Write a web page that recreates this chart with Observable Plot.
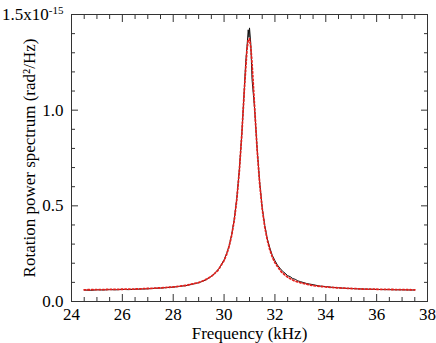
<!DOCTYPE html>
<html><head><meta charset="utf-8">
<script src="https://cdn.jsdelivr.net/npm/d3@7"></script>
<script src="https://cdn.jsdelivr.net/npm/@observablehq/plot@0.6"></script>
<style>body{margin:0;background:#fff} #chart svg, #chart svg text{font-family:"Liberation Serif","Times New Roman",serif !important}</style>
</head><body><div id="chart"></div>
<script>
// Fit (red dotted) — frequency in kHz, power in units of 1e-15 rad^2/Hz
const fitFreq = [24.5,25,25.5,26,26.5,27,27.5,28,28.5,29,29.25,29.5,29.75,30,30.1,30.2,30.3,30.4,30.5,30.6,30.7,30.8,30.9,30.95,31.0,31.05,31.1,31.2,31.3,31.4,31.5,31.6,31.7,31.8,31.9,32.0,32.25,32.5,32.75,33,33.5,34,34.5,35,35.5,36,36.5,37,37.5];
const fitPower = [0.061,0.062,0.063,0.064,0.065,0.068,0.071,0.076,0.084,0.099,0.112,0.131,0.161,0.214,0.246,0.289,0.346,0.424,0.532,0.681,0.879,1.113,1.315,1.368,1.373,1.329,1.245,1.018,0.794,0.616,0.485,0.390,0.321,0.270,0.232,0.203,0.155,0.127,0.109,0.098,0.083,0.076,0.071,0.068,0.065,0.064,0.063,0.062,0.061];
// Measured (black)
const measFreq = [24.5,24.75,25.0,25.25,25.5,25.75,26.0,26.25,26.5,26.75,27.0,27.25,27.5,27.75,28.0,28.25,28.5,28.75,29.0,29.2,29.4,29.5,29.6,29.7,29.8,29.9,30.0,30.1,30.2,30.3,30.4,30.5,30.6,30.7,30.8,30.85,30.9,30.95,30.98,31.0,31.05,31.1,31.2,31.3,31.4,31.5,31.6,31.7,31.8,31.9,32.0,32.1,32.2,32.3,32.4,32.5,32.6,32.7,32.8,32.9,33.0,33.25,33.5,33.75,34.0,34.25,34.5,34.75,35.0,35.25,35.5,35.75,36.0,36.25,36.5,36.75,37.0,37.25,37.5];
const measPower = [0.060,0.058,0.061,0.060,0.062,0.061,0.063,0.062,0.064,0.065,0.066,0.069,0.070,0.073,0.075,0.079,0.083,0.090,0.098,0.108,0.122,0.132,0.142,0.158,0.172,0.194,0.218,0.250,0.292,0.350,0.430,0.540,0.690,0.880,1.120,1.250,1.330,1.420,1.380,1.430,1.350,1.160,1.010,0.800,0.625,0.490,0.398,0.328,0.280,0.240,0.214,0.190,0.174,0.158,0.148,0.135,0.130,0.120,0.116,0.108,0.104,0.094,0.088,0.081,0.078,0.074,0.072,0.069,0.068,0.066,0.065,0.064,0.063,0.062,0.062,0.061,0.061,0.060,0.060];

const xTicks = [24,26,28,30,32,34,36,38];
const xMinor = [24.5,25,25.5,26.5,27,27.5,28.5,29,29.5,30.5,31,31.5,32.5,33,33.5,34.5,35,35.5,36.5,37,37.5];
const yTicks = [0,0.5,1.0,1.5];
const yTickLabels = ["0.0","0.5","1.0","1.5x10"];
const yExponent = "-15";
const yMinor = [0.1,0.2,0.3,0.4,0.6,0.7,0.8,0.9,1.1,1.2,1.3,1.4];
const xTitle = "Frequency (kHz)";
const yTitle = "Rotation power spectrum (rad\u00B2/Hz)";

const fit = fitFreq.map((f, i) => ({f, p: fitPower[i]}));
const meas = measFreq.map((f, i) => ({f, p: measPower[i]}));
const font = "Liberation Serif";
const axisCol = "#333";
const noLab = () => "";

const chart = Plot.plot({
  width: 436, height: 343,
  marginLeft: 71, marginRight: 9, marginTop: 14, marginBottom: 42,
  style: {fontFamily: font, fontSize: "17px", background: "#fff", color: "#000"},
  x: {domain: [24, 38]},
  y: {domain: [0, 1.5]},
  marks: [
    Plot.line(meas, {x: "f", y: "p", stroke: "#111", strokeWidth: 1}),
    Plot.line(fit, {x: "f", y: "p", stroke: "#e4201c", strokeWidth: 1.8, strokeDasharray: "1.5,2.2"}),
    Plot.frame({stroke: axisCol, strokeWidth: 1}),
    Plot.axisX({anchor: "bottom", ticks: xTicks, tickSize: -7, tickFormat: noLab, label: null, stroke: axisCol}),
    Plot.axisX({anchor: "bottom", ticks: xMinor, tickSize: -4, tickFormat: noLab, label: null, stroke: axisCol}),
    Plot.axisX({anchor: "top", ticks: xTicks, tickSize: -7, tickFormat: noLab, label: null, stroke: axisCol}),
    Plot.axisX({anchor: "top", ticks: xMinor, tickSize: -4, tickFormat: noLab, label: null, stroke: axisCol}),
    Plot.axisY({anchor: "left", ticks: yTicks, tickSize: -7, tickFormat: noLab, label: null, stroke: axisCol}),
    Plot.axisY({anchor: "left", ticks: yMinor, tickSize: -4, tickFormat: noLab, label: null, stroke: axisCol}),
    Plot.axisY({anchor: "right", ticks: yTicks, tickSize: -7, tickFormat: noLab, label: null, stroke: axisCol}),
    Plot.axisY({anchor: "right", ticks: yMinor, tickSize: -4, tickFormat: noLab, label: null, stroke: axisCol}),
    Plot.axisX({anchor: "bottom", ticks: xTicks, tickSize: 0, tickPadding: 6, tickFormat: d => String(d), label: null, fontSize: 17, fontFamily: font, fill: "#000"}),
    Plot.axisY({anchor: "left", ticks: yTicks, tickSize: 0, tickPadding: 8, tickFormat: d => yTickLabels[yTicks.indexOf(d)], label: null, fontSize: 17, fontFamily: font, fill: "#000"}),
    Plot.text([xTitle], {text: d => d, frameAnchor: "bottom", dy: 37, fontSize: 17, fontFamily: font, fill: "#000"}),
    Plot.text([yTitle], {text: d => d, frameAnchor: "left", textAnchor: "middle", lineAnchor: "middle", dx: -42, rotate: -90, fontSize: 17, fontFamily: font, fill: "#000"})
  ]
});

d3.select(chart).selectAll("text").filter(function() { return this.textContent === yTickLabels[3]; })
  .append("tspan").attr("dy", "-0.5em").attr("font-size", "11px").text(yExponent);

document.getElementById("chart").appendChild(chart);
</script>
</body></html>
